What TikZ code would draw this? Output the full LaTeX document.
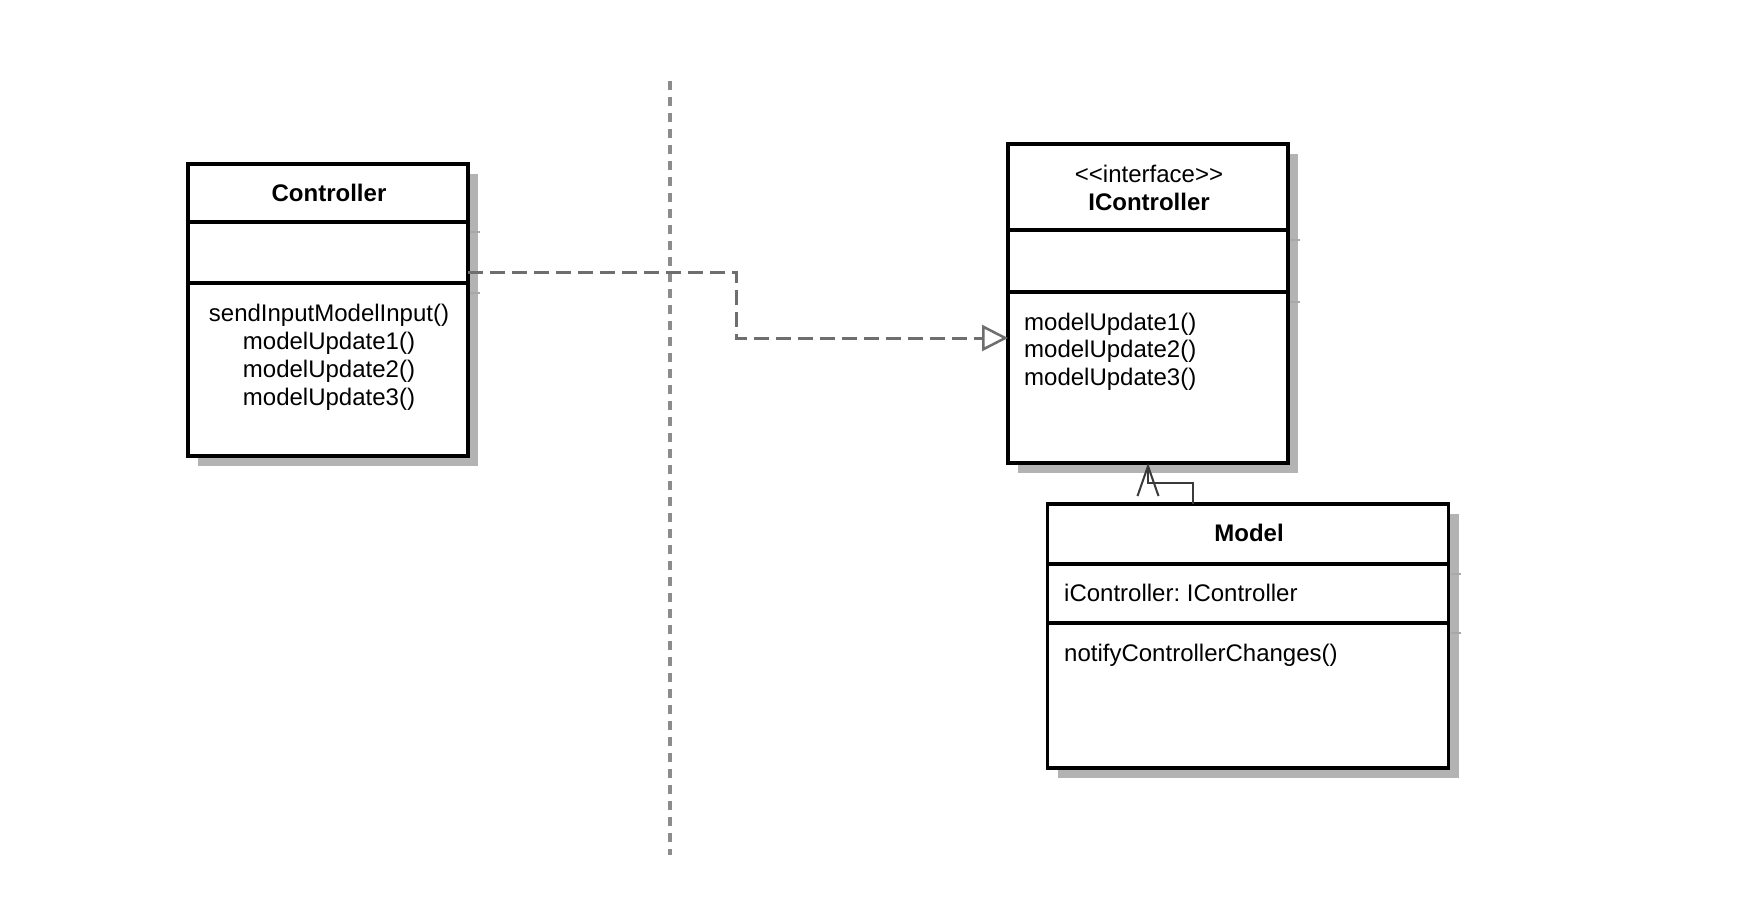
\documentclass[tikz,border=0pt]{standalone}
\usepackage{fontspec}
\setmainfont{Liberation Sans}
\usetikzlibrary{arrows.meta,shadows}
\definecolor{shadowgray}{HTML}{B3B3B3}
\definecolor{dashgray}{HTML}{6E6E6E}
\definecolor{dotgray}{HTML}{8C8C8C}
\definecolor{arrowgray}{HTML}{3A3A3A}
\definecolor{tickgray}{HTML}{A8A8A8}
\frenchspacing
\begin{document}
\begin{tikzpicture}[x=1pt,y=-1pt,
  umlbox/.style={draw=black, line width=3.5pt, fill=white, inner sep=0pt, outer sep=0pt,
    drop shadow={shadow xshift=10pt, shadow yshift=-10pt, fill=shadowgray, opacity=1}},
  sepline/.style={draw=black, line width=3.5pt},
  sepshadow/.style={draw=tickgray, line width=1.5pt},
  lbl/.style={font=\fontsize{24}{28}\selectfont, inner sep=0pt, anchor=base},
  lblb/.style={lbl, font=\fontsize{24}{28}\selectfont\bfseries},
  lbll/.style={lbl, anchor=base west},
  dashconn/.style={draw=dashgray, line width=3pt, dash pattern=on 15pt off 7pt,
    -{Triangle[open, length=26pt, width=26pt, line width=2.5pt]}},
  realconn/.style={draw=arrowgray, line width=2pt, -{Straight Barb[length=30pt, width=21pt, line width=2pt]}},
  dotline/.style={draw=dotgray, line width=4pt, dash pattern=on 9pt off 7pt}]
\useasboundingbox (0,0) rectangle (1760,922);
\fill[white] (0,0) rectangle (1760,922);

% boundary line
\draw[dotline] (670,81) -- (670,855);

% Controller
\node[umlbox, minimum width=280pt, minimum height=292pt] (ctrl) at (328,310) {};
\draw[sepline] (ctrl.west |- 0,222) -- (ctrl.east |- 0,222);
\draw[sepline] (ctrl.west |- 0,283) -- (ctrl.east |- 0,283);
\draw[sepshadow] ([xshift=2pt]ctrl.east |- 0,232) -- ++(10,0);
\draw[sepshadow] ([xshift=2pt]ctrl.east |- 0,293) -- ++(10,0);
\node[lblb] (ctrlname) at (329,201) {Controller};
\node[lbl] (cm1) at (329,321) {sendInputModelInput()};
\node[lbl] (cm2) at (329,349) {modelUpdate1()};
\node[lbl] (cm3) at (329,377) {modelUpdate2()};
\node[lbl] (cm4) at (329,405) {modelUpdate3()};

% IController
\node[umlbox, minimum width=280pt, minimum height=319pt] (ictrl) at (1148,303.5) {};
\draw[sepline] (ictrl.west |- 0,230) -- (ictrl.east |- 0,230);
\draw[sepline] (ictrl.west |- 0,292) -- (ictrl.east |- 0,292);
\draw[sepshadow] ([xshift=2pt]ictrl.east |- 0,240) -- ++(10,0);
\draw[sepshadow] ([xshift=2pt]ictrl.east |- 0,302) -- ++(10,0);
\node[lbl] (istereo) at (1149,182) {<{}<interface>{}>};
\node[lblb] (iname) at (1149,210) {IController};
\node[lbll] (im1) at (1024,330) {modelUpdate1()};
\node[lbll] (im2) at (1024,357) {modelUpdate2()};
\node[lbll] (im3) at (1024,385) {modelUpdate3()};

% Model
\node[umlbox, minimum width=401pt, minimum height=264pt] (model) at (1248,636) {};
\draw[sepline] (model.west |- 0,564) -- (model.east |- 0,564);
\draw[sepline] (model.west |- 0,623) -- (model.east |- 0,623);
\draw[sepshadow] ([xshift=2pt]model.east |- 0,574) -- ++(10,0);
\draw[sepshadow] ([xshift=2pt]model.east |- 0,633) -- ++(10,0);
\node[lblb] (mname) at (1249,541) {Model};
\node[lbll] (mattr) at (1064,601) {iController: IController};
\node[lbll] (mop) at (1064,661) {notifyControllerChanges()};

% connectors
\draw[dashconn] ([yshift=38pt]ctrl.east) -| (736,305) |- ([yshift=-34.5pt]ictrl.west);
\draw[realconn] ([xshift=-55pt]model.north) |- (1148,483) -- (ictrl.south);
\end{tikzpicture}
\end{document}
